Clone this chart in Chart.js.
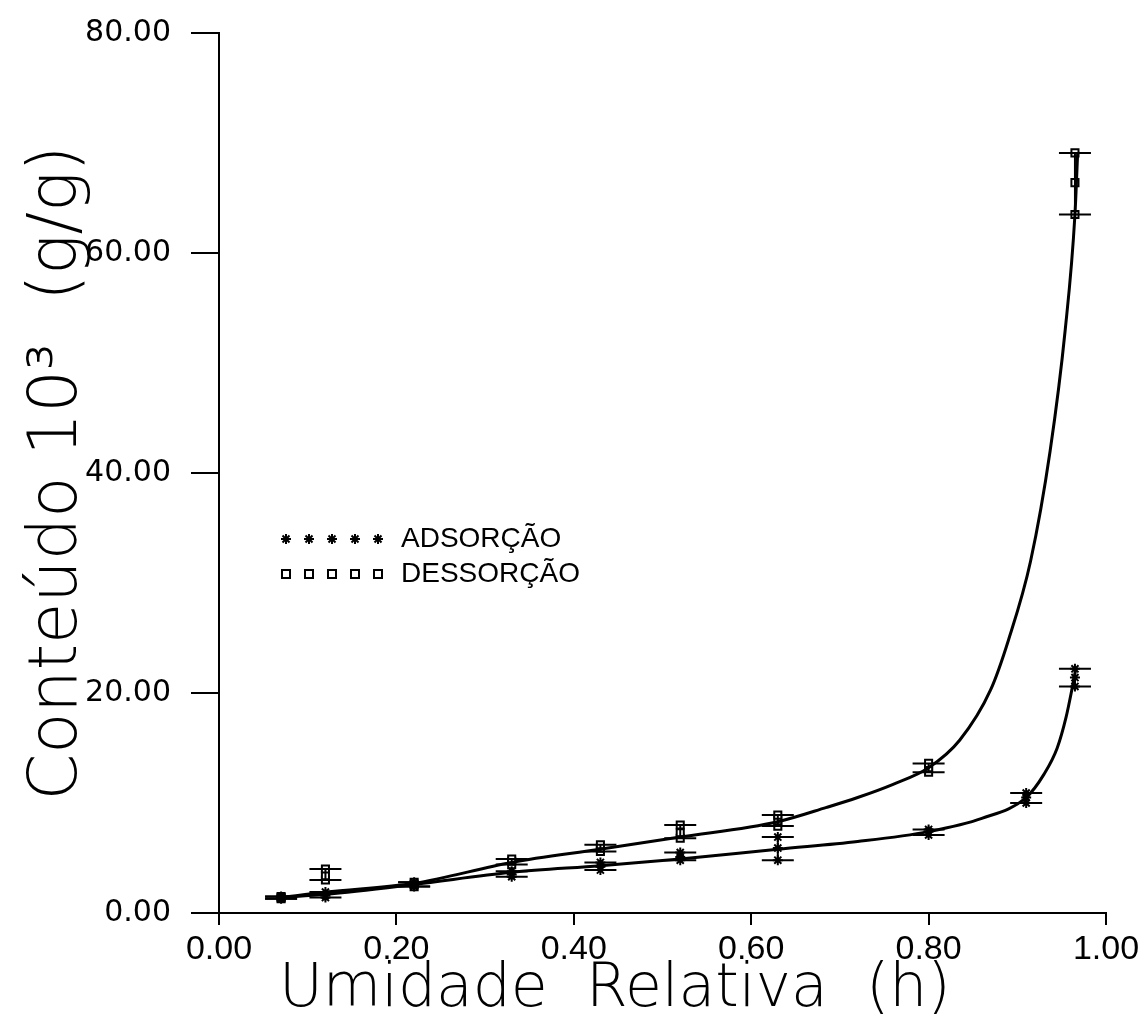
<!DOCTYPE html>
<html>
<head>
<meta charset="utf-8">
<script src="https://cdn.jsdelivr.net/npm/chart.js@4/dist/chart.umd.min.js"></script>
<style>
  html, body { margin: 0; padding: 0; background: #fff; }
  #grafico { display: block; }
</style>
</head>
<body>
<canvas id="grafico" width="1145" height="1024"></canvas>
<script>
// pontos experimentais (umidade relativa x conteúdo 10^3)
const umidade = [0.07, 0.12, 0.22, 0.33, 0.43, 0.52, 0.63, 0.80, 0.91, 0.965];
const adsorcaoMedia = [1.4, 1.6, 2.6, 3.5, 4.2, 5.1, 5.9, 7.4, 10.5, 21.4];
const adsorcaoMin = [1.3, 1.4, 2.4, 3.3, 3.9, 4.8, 4.8, 7.1, 10.0, 20.6];
const adsorcaoMax = [1.5, 1.9, 2.8, 3.8, 4.6, 5.5, 6.9, 7.6, 10.9, 22.2];
const dessorcaoMedia = [1.4, 3.4, 2.6, 4.7, 5.9, 7.3, 8.4, 13.2, null, 66.4];
const dessorcaoMin = [1.3, 3.0, 2.4, 4.4, 5.6, 6.8, 7.9, 12.8, null, 63.5];
const dessorcaoMax = [1.5, 4.0, 2.8, 4.9, 6.2, 8.0, 8.9, 13.6, null, 69.1];

// curvas ajustadas
const curvaAdsX = [0.07, 0.12, 0.22, 0.33, 0.43, 0.52, 0.63, 0.72, 0.80, 0.86, 0.91, 0.93, 0.945, 0.955, 0.962, 0.966];
const curvaAdsY = [1.4, 1.7, 2.6, 3.7, 4.3, 4.9, 5.8, 6.5, 7.4, 8.6, 10.5, 12.6, 15.0, 17.8, 20.5, 22.2];
const curvaDesX = [0.07, 0.12, 0.22, 0.33, 0.43, 0.52, 0.63, 0.685, 0.72, 0.76, 0.80, 0.835, 0.87, 0.89, 0.915, 0.937, 0.954, 0.965, 0.968];
const curvaDesY = [1.4, 1.9, 2.7, 4.6, 5.8, 6.9, 8.3, 9.6, 10.5, 11.7, 13.2, 15.7, 20.3, 24.8, 32.0, 42.0, 53.0, 63.5, 69.0];

const ticksX = [0, 0.2, 0.4, 0.6, 0.8, 1.0];
const ticksY = [0, 20, 40, 60, 80];

const pares = (xs, ys) => xs.map((x, i) => ({ x: x, y: ys[i] }));
const replicas = (med, lo, hi) => umidade.flatMap((h, i) =>
  med[i] == null ? [] : [lo[i], med[i], hi[i]].map(v => ({ x: h, y: v })));

// barras de erro: traço vertical + dois traços horizontais
const barrasErro = {
  id: 'barrasErro',
  afterDatasetsDraw(chart) {
    const { ctx, scales: { x, y } } = chart;
    ctx.save();
    ctx.strokeStyle = '#000';
    ctx.lineWidth = 2;
    [[adsorcaoMin, adsorcaoMax], [dessorcaoMin, dessorcaoMax]].forEach(([lo, hi]) => {
      umidade.forEach((h, i) => {
        if (lo[i] == null) return;
        const px = x.getPixelForValue(h);
        const pl = y.getPixelForValue(lo[i]);
        const ph = y.getPixelForValue(hi[i]);
        ctx.beginPath();
        ctx.moveTo(px - 16, pl); ctx.lineTo(px + 16, pl);
        ctx.moveTo(px - 16, ph); ctx.lineTo(px + 16, ph);
        ctx.moveTo(px, pl); ctx.lineTo(px, ph);
        ctx.stroke();
      });
    });
    ctx.restore();
  }
};

// legenda com cinco símbolos
const legenda = {
  id: 'legenda',
  afterDraw(chart) {
    const ctx = chart.ctx;
    ctx.save();
    ctx.strokeStyle = '#000';
    ctx.fillStyle = '#000';
    ctx.lineWidth = 2;
    ctx.font = '28px "Liberation Sans", sans-serif';
    ctx.textBaseline = 'middle';
    for (let k = 0; k < 5; k++) {
      const cx = 286 + k * 23, cy = 539, r = 5;
      ctx.beginPath();
      ctx.moveTo(cx - r, cy); ctx.lineTo(cx + r, cy);
      ctx.moveTo(cx, cy - r); ctx.lineTo(cx, cy + r);
      ctx.moveTo(cx - 3.5, cy - 3.5); ctx.lineTo(cx + 3.5, cy + 3.5);
      ctx.moveTo(cx - 3.5, cy + 3.5); ctx.lineTo(cx + 3.5, cy - 3.5);
      ctx.stroke();
      ctx.strokeRect(cx - 4, 574 - 4, 8, 8);
    }
    ctx.fillText('ADSORÇÃO', 401, 539);
    ctx.fillText('DESSORÇÃO', 401, 574);
    ctx.restore();
  }
};

const ctx = document.getElementById('grafico').getContext('2d');
new Chart(ctx, {
  type: 'scatter',
  data: {
    datasets: [
      {
        label: 'ADSORÇÃO ajuste',
        data: pares(curvaAdsX, curvaAdsY),
        showLine: true,
        borderColor: '#000',
        borderWidth: 3,
        pointRadius: 0,
        cubicInterpolationMode: 'monotone'
      },
      {
        label: 'DESSORÇÃO ajuste',
        data: pares(curvaDesX, curvaDesY),
        showLine: true,
        borderColor: '#000',
        borderWidth: 3,
        pointRadius: 0,
        cubicInterpolationMode: 'monotone'
      },
      {
        label: 'ADSORÇÃO',
        data: replicas(adsorcaoMedia, adsorcaoMin, adsorcaoMax),
        pointStyle: 'star',
        pointRadius: 5,
        borderColor: '#000',
        borderWidth: 2
      },
      {
        label: 'DESSORÇÃO',
        data: replicas(dessorcaoMedia, dessorcaoMin, dessorcaoMax),
        pointStyle: 'rect',
        pointRadius: 5,
        backgroundColor: '#fff',
        borderColor: '#000',
        borderWidth: 2
      }
    ]
  },
  options: {
    responsive: false,
    animation: false,
    layout: { padding: { top: 33, right: 39, left: 0, bottom: 0 } },
    plugins: {
      legend: { display: false },
      tooltip: { enabled: false }
    },
    scales: {
      x: {
        type: 'linear',
        min: 0,
        max: 1,
        afterFit: s => { s.height = 111; s.paddingLeft = 0; s.paddingRight = 0; },
        afterBuildTicks: s => { s.ticks = ticksX.map(v => ({ value: v })); },
        ticks: {
          color: '#000',
          padding: 4,
          maxRotation: 0,
          font: { family: '"Liberation Sans Narrow", sans-serif', size: 34 },
          callback: v => Number(v).toFixed(2)
        },
        grid: { drawOnChartArea: false, tickLength: 12, color: '#000', lineWidth: 2 },
        border: { color: '#000', width: 2 },
        title: {
          display: true,
          text: 'Umidade  Relativa  (h)     ',
          color: '#000',
          padding: { top: 0, bottom: -2 },
          font: { family: '"DejaVu Sans", sans-serif', size: 60, weight: 200 }
        }
      },
      y: {
        min: 0,
        max: 80,
        afterFit: s => { s.width = 219; s.paddingTop = 0; s.paddingBottom = 0; },
        afterBuildTicks: s => { s.ticks = ticksY.map(v => ({ value: v })); },
        ticks: {
          color: '#000',
          padding: 20,
          font: { family: '"DejaVu Sans", sans-serif', size: 30 },
          callback: v => Number(v).toFixed(2)
        },
        grid: { drawOnChartArea: false, tickLength: 28, color: '#000', lineWidth: 2 },
        border: { color: '#000', width: 2 },
        title: {
          display: true,
          text: 'Conteúdo 10³  (g/g)',
          color: '#000',
          padding: { top: 18, bottom: 0 },
          font: { family: '"DejaVu Sans", sans-serif', size: 67, weight: 200 }
        }
      }
    }
  },
  plugins: [barrasErro, legenda]
});
</script>
</body>
</html>
